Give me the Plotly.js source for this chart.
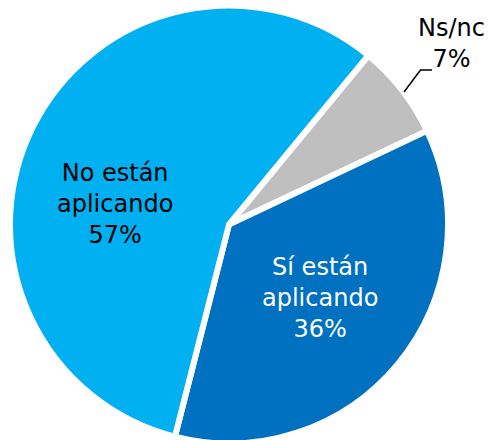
<!DOCTYPE html>
<html>
<head>
<meta charset="utf-8">
<script src="https://cdn.plot.ly/plotly-3.0.1.min.js"></script>
<style>
html,body{margin:0;padding:0;overflow:hidden;background:#fff;}
#chart{width:491px;height:450px;}
</style>
</head>
<body>
<div id="chart"></div>
<script>
const categories = ["Ns/nc", "Sí están aplicando", "No están aplicando"];
const labelLines = ["Ns/nc", "Sí están<br>aplicando", "No están<br>aplicando"];
const values = [7, 36, 57];
const colors = ["#BFBFBF", "#0070C0", "#00B0F0"];
const textColors = ["#000000", "#FFFFFF", "#000000"];

const W = 491, H = 450;
const px = (x) => x / W;
const py = (y) => 1 - y / H;

const trace = {
  type: "pie",
  labels: categories,
  values: values,
  sort: false,
  direction: "clockwise",
  rotation: 39.5,
  textinfo: "none",
  hoverinfo: "label+percent",
  marker: {colors: colors, line: {color: "#FFFFFF", width: 6}},
  domain: {x: [px(10), px(448)], y: [py(443.5), py(5.5)]},
  showlegend: false
};

const total = values.reduce((a, b) => a + b, 0);
const pct = values.map(v => Math.round(v / total * 100) + "%");
const labelPos = [[451, 44], [320, 298], [115, 204]];

const font = "DejaVu Sans";
const annotations = values.map((v, i) => ({
  xref: "paper", yref: "paper",
  x: px(labelPos[i][0]), y: py(labelPos[i][1]),
  xanchor: "center", yanchor: "middle",
  text: labelLines[i] + "<br>" + pct[i],
  showarrow: false,
  align: "center",
  font: {family: font, size: 24, color: textColors[i]}
}));

const layout = {
  width: W, height: H,
  margin: {l: 0, r: 0, t: 0, b: 0},
  paper_bgcolor: "#FFFFFF",
  annotations: annotations,
  shapes: [{
    type: "path", xref: "paper", yref: "paper",
    path: `M ${px(404)} ${py(92)} L ${px(420.5)} ${py(70)} L ${px(432)} ${py(70)}`,
    line: {color: "#000000", width: 1.5}
  }]
};

Plotly.newPlot("chart", [trace], layout, {displayModeBar: false, staticPlot: true});
</script>
</body>
</html>
